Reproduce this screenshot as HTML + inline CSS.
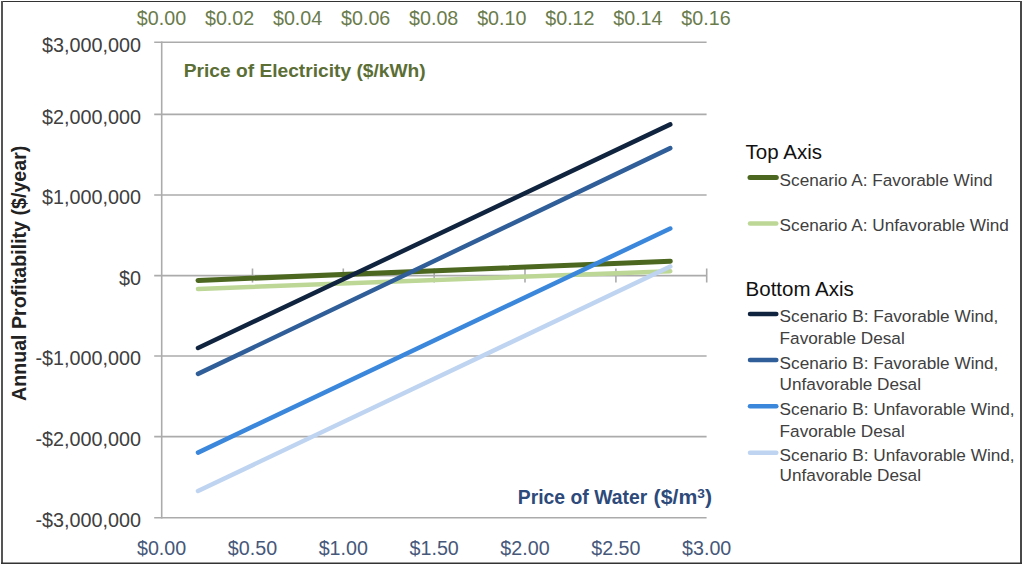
<!DOCTYPE html>
<html><head><meta charset="utf-8">
<style>
html,body{margin:0;padding:0;background:#fff;}
body{width:1024px;height:567px;overflow:hidden;position:relative;}
svg{position:absolute;left:0;top:0;}
text{font-family:"Liberation Sans",sans-serif;}
.yl{font-size:19.8px;fill:#404040;text-anchor:end;}
.tl{font-size:19.7px;fill:#6a7b4c;text-anchor:middle;}
.bl{font-size:19.7px;fill:#46587a;text-anchor:middle;}
.lg{font-size:17.2px;fill:#404040;}
.lt{font-size:20.5px;fill:#111;}
</style></head>
<body>
<svg width="1024" height="567" viewBox="0 0 1024 567">
<rect x="0" y="0" width="1024" height="567" fill="#fff"/>
<!-- border -->
<rect x="1" y="1" width="1021" height="1" fill="#333"/>
<rect x="1" y="1" width="2" height="563" fill="#555"/>
<rect x="1020" y="1" width="2" height="563" fill="#484848"/>
<rect x="1" y="562.5" width="1021" height="1.5" fill="#333"/>

<!-- gridlines -->
<g stroke="#ababab" stroke-width="1.6" fill="none">
<line x1="154.2" y1="42.3" x2="706.6" y2="42.3"/>
<line x1="154.2" y1="114.4" x2="706.6" y2="114.4"/>
<line x1="154.2" y1="195" x2="706.6" y2="195"/>
<line x1="154.2" y1="275.6" x2="706.6" y2="275.6"/>
<line x1="154.2" y1="356" x2="706.6" y2="356"/>
<line x1="154.2" y1="436.6" x2="706.6" y2="436.6"/>
<line x1="154.2" y1="517.8" x2="706.6" y2="517.8"/>
<line x1="161.7" y1="41.5" x2="161.7" y2="518.6"/>
<line x1="252.5" y1="268.5" x2="252.5" y2="282.5"/>
<line x1="343.3" y1="268.5" x2="343.3" y2="282.5"/>
<line x1="434.2" y1="268.5" x2="434.2" y2="282.5"/>
<line x1="525" y1="268.5" x2="525" y2="282.5"/>
<line x1="615.9" y1="268.5" x2="615.9" y2="282.5"/>
<line x1="706.7" y1="268.5" x2="706.7" y2="282.5"/>
</g>

<!-- data lines -->
<g stroke-width="4.5" stroke-linecap="round" fill="none">
<line x1="198" y1="280.4" x2="670.3" y2="261.2" stroke="#4c6820" stroke-width="5"/>
<line x1="198" y1="288.9" x2="670.3" y2="271.3" stroke="#bdd797"/>
<line x1="198" y1="348" x2="670.3" y2="124.4" stroke="#10243f"/>
<line x1="198" y1="373.9" x2="670.3" y2="148.1" stroke="#2f5e98"/>
<line x1="198" y1="452.6" x2="670.3" y2="228.5" stroke="#3b87dc"/>
<line x1="198" y1="491" x2="670.3" y2="266.5" stroke="#bed4f1"/>
</g>

<!-- y axis labels -->
<text class="yl" x="141" y="51.6">$3,000,000</text>
<text class="yl" x="141" y="123.7">$2,000,000</text>
<text class="yl" x="141" y="204.3">$1,000,000</text>
<text class="yl" x="141" y="284.9">$0</text>
<text class="yl" x="141" y="365.3">-$1,000,000</text>
<text class="yl" x="141" y="445.9">-$2,000,000</text>
<text class="yl" x="141" y="527.1">-$3,000,000</text>

<!-- top axis labels -->
<text class="tl" x="161.5" y="24.8">$0.00</text>
<text class="tl" x="229.6" y="24.8">$0.02</text>
<text class="tl" x="297.6" y="24.8">$0.04</text>
<text class="tl" x="365.7" y="24.8">$0.06</text>
<text class="tl" x="433.7" y="24.8">$0.08</text>
<text class="tl" x="501.8" y="24.8">$0.10</text>
<text class="tl" x="569.9" y="24.8">$0.12</text>
<text class="tl" x="637.9" y="24.8">$0.14</text>
<text class="tl" x="706" y="24.8">$0.16</text>

<!-- bottom axis labels -->
<text class="bl" x="161.6" y="554.7">$0.00</text>
<text class="bl" x="252.5" y="554.7">$0.50</text>
<text class="bl" x="343.3" y="554.7">$1.00</text>
<text class="bl" x="434.2" y="554.7">$1.50</text>
<text class="bl" x="525" y="554.7">$2.00</text>
<text class="bl" x="615.9" y="554.7">$2.50</text>
<text class="bl" x="706.7" y="554.7">$3.00</text>

<!-- axis titles -->
<text x="183.7" y="77.4" style="font-size:19.2px;font-weight:bold;fill:#5b6e35">Price of Electricity ($/kWh)</text>
<text x="517.8" y="504.3" textLength="129.4" lengthAdjust="spacingAndGlyphs" style="font-size:19.4px;font-weight:bold;fill:#2d4a7a">Price of Water</text>
<text x="653.6" y="504.3" textLength="58.4" lengthAdjust="spacingAndGlyphs" style="font-size:19.4px;font-weight:bold;fill:#2d4a7a">($/m<tspan dy="-6.8" style="font-size:12.5px">3</tspan><tspan dy="6.8">)</tspan></text>
<text transform="translate(25.5,401) rotate(-90)" x="0" y="0" style="font-size:19.65px;font-weight:bold;fill:#222">Annual Profitability ($/year)</text>

<!-- legend -->
<text class="lt" x="745.6" y="159.1">Top Axis</text>
<line x1="750" y1="177.4" x2="776.3" y2="177.4" stroke="#4c6820" stroke-width="5" stroke-linecap="round"/>
<text class="lg" x="779.6" y="186">Scenario A: Favorable Wind</text>
<line x1="750" y1="223.4" x2="776.3" y2="223.4" stroke="#bdd797" stroke-width="4.5" stroke-linecap="round"/>
<text class="lg" x="779.6" y="231.3">Scenario A: Unfavorable Wind</text>

<text class="lt" x="745.6" y="296.2">Bottom Axis</text>
<line x1="750" y1="314" x2="776.3" y2="314" stroke="#10243f" stroke-width="4.5" stroke-linecap="round"/>
<text class="lg" x="779.6" y="321.7">Scenario B: Favorable Wind,</text>
<text class="lg" x="779.6" y="343.8">Favorable Desal</text>
<line x1="750" y1="360" x2="776.3" y2="360" stroke="#2f5e98" stroke-width="4.5" stroke-linecap="round"/>
<text class="lg" x="779.6" y="368.5">Scenario B: Favorable Wind,</text>
<text class="lg" x="779.6" y="390.4">Unfavorable Desal</text>
<line x1="750" y1="406.3" x2="776.3" y2="406.3" stroke="#3b87dc" stroke-width="4.5" stroke-linecap="round"/>
<text class="lg" x="779.6" y="415.3">Scenario B: Unfavorable Wind,</text>
<text class="lg" x="779.6" y="436.6">Favorable Desal</text>
<line x1="750" y1="452.7" x2="776.3" y2="452.7" stroke="#bed4f1" stroke-width="4.5" stroke-linecap="round"/>
<text class="lg" x="779.6" y="460.6">Scenario B: Unfavorable Wind,</text>
<text class="lg" x="779.6" y="481">Unfavorable Desal</text>
</svg>
</body></html>
